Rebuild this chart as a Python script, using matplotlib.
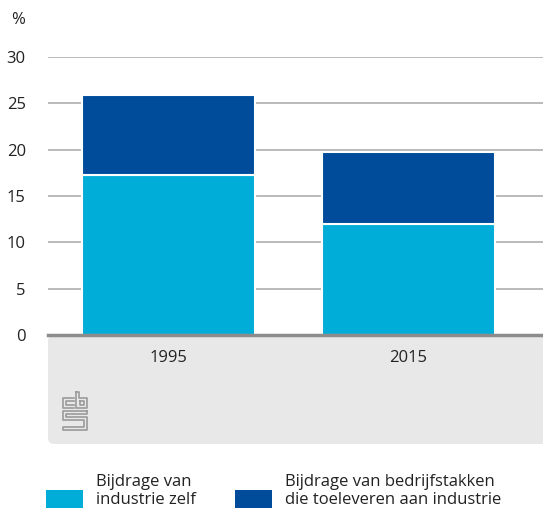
import matplotlib
matplotlib.use("Agg")
import matplotlib.pyplot as plt
from matplotlib.patches import FancyBboxPatch, Rectangle
from matplotlib.lines import Line2D

years = ["1995", "2015"]
industrie_zelf = [17.3, 12.0]
toeleveranciers = [8.6, 7.7]
yticks = [0, 5, 10, 15, 20, 25, 30]
legend_labels = ["Bijdrage van\nindustrie zelf", "Bijdrage van bedrijfstakken\ndie toeleveren aan industrie"]
colors = ["#00acd8", "#004c9a"]

plt.rcParams['font.family'] = ['Open Sans', 'DejaVu Sans']

W, H = 543, 508
fig = plt.figure(figsize=(W / 100, H / 100), dpi=100)

def fx(px):
    return px / W

def fy(py):
    return 1 - py / H

# grey panel below axis
panel = FancyBboxPatch((fx(48), fy(444)), fx(560) - fx(48), fy(335) - fy(444),
                       boxstyle="round,pad=0,rounding_size=0.012",
                       transform=fig.transFigure, facecolor="#e8e8e8",
                       edgecolor="none", zorder=-5)
fig.patches.append(panel)

ax = fig.add_axes([fx(48), fy(335), fx(543) - fx(48), fy(57) - fy(335)])
ax.set_facecolor("none")
x = list(range(len(years)))
ax.bar(x, industrie_zelf, width=0.72, color=colors[0], edgecolor="white", linewidth=1.5, zorder=3)
ax.bar(x, toeleveranciers, bottom=industrie_zelf, width=0.72, color=colors[1],
       edgecolor="white", linewidth=1.5, zorder=3)
ax.set_xlim(-0.502, 1.56)
ax.set_ylim(0, 30)
ax.set_yticks(yticks)
ax.set_yticklabels([str(v) for v in yticks], fontsize=12, color="#222222")
ax.set_xticks(x)
ax.set_xticklabels(years, fontsize=12, color="#222222")
ax.tick_params(axis="y", length=0, pad=16)
ax.tick_params(axis="x", length=0, pad=11)
for t in yticks[1:]:
    ax.axhline(t, color="#b4b4b4", linewidth=1.3, zorder=1)
for s in ["top", "right", "left"]:
    ax.spines[s].set_visible(False)
ax.spines["bottom"].set_color("#8c8c8c")
ax.spines["bottom"].set_linewidth(2.5)
ax.spines["bottom"].set_zorder(4)

fig.text(fx(11), fy(20), "%", fontsize=12, color="#222222", va="center", ha="left")

# CBS logo (decorative)
lc = "#9a9a9a"
lw = 1.2
def seg(pts):
    fig.add_artist(Line2D([fx(p[0]) for p in pts], [fy(p[1]) for p in pts],
                          color=lc, linewidth=lw, transform=fig.transFigure))
# c
seg([(74, 398), (63, 398), (63, 408), (74, 408)])
seg([(74, 401), (66, 401), (66, 405), (74, 405)])
# b
seg([(76, 392), (76, 408), (87, 408), (87, 398), (79, 398), (79, 392), (76, 392)])
seg([(80, 401), (84, 401), (84, 405), (80, 405), (80, 401)])
# s
seg([(87, 411), (63, 411), (63, 420), (84, 420), (84, 427), (63, 427), (63, 430), (87, 430), (87, 417), (66, 417), (66, 414), (87, 414), (87, 411)])

# legend
for i, (lab, c) in enumerate(zip(legend_labels, colors)):
    x0 = [46, 235][i]
    fig.patches.append(Rectangle((fx(x0), fy(508)), fx(37), fy(490) - fy(508),
                                 transform=fig.transFigure, facecolor=c, edgecolor="none"))
    fig.text(fx(x0 + 50), fy(491), lab, fontsize=12, color="#222222",
             va="center", ha="left", linespacing=1.12)

fig.savefig("out.png", dpi=100)
